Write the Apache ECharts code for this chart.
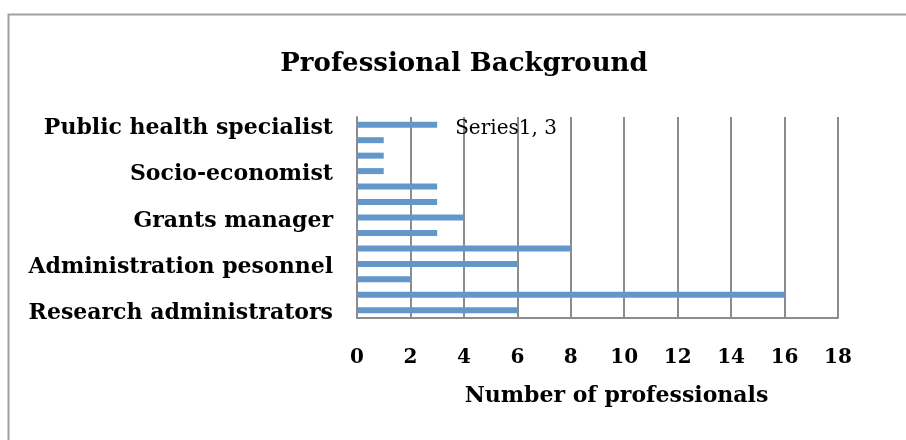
<!DOCTYPE html>
<html><head><meta charset="utf-8">
<script src="https://cdn.jsdelivr.net/npm/echarts@6/dist/echarts.min.js"></script>
<style>html,body{margin:0;padding:0;background:#fff}#c{width:906px;height:440px}</style>
</head><body><div id="c"></div>
<script>
// categories, bottom to top (only every third one is labelled in the source)
const categories = ['Research administrators','','','Administration pesonnel','','','Grants manager','','','Socio-economist','','','Public health specialist'];
const values = [6,16,2,6,8,3,4,3,3,1,1,1,3];
const xTicks = [0,2,4,6,8,10,12,14,16,18];
const seriesName = 'Series1';
const titleText = 'Professional Background';
const xAxisTitle = 'Number of professionals';

const FONT = 'DejaVu Serif';
const chart = echarts.init(document.getElementById('c'), null, {renderer:'canvas'});
const lastIdx = values.length - 1;
chart.setOption({
  animation:false,
  backgroundColor:'#fff',
  graphic:[{type:'rect',shape:{x:8.5,y:14.5,width:1000,height:1000},style:{fill:'none',stroke:'#a0a0a0',lineWidth:2},silent:true}],
  title:{text:titleText,left:459,textAlign:'center',top:46,textStyle:{fontFamily:FONT,fontWeight:'bold',fontSize:26,color:'#000'}},
  grid:{left:357,right:68,top:117,bottom:122,containLabel:false},
  xAxis:{type:'value',min:xTicks[0],max:xTicks[xTicks.length-1],interval:2,
    name:xAxisTitle,nameLocation:'middle',nameGap:67,
    nameTextStyle:{fontFamily:FONT,fontWeight:'bold',fontSize:22,color:'#000',padding:[0,0,0,38]},
    axisLine:{show:true,lineStyle:{color:'#8c8c8c',width:2}},
    axisTick:{show:false},
    axisLabel:{margin:30,fontFamily:FONT,fontWeight:'bold',fontSize:20,color:'#000'},
    splitLine:{show:true,lineStyle:{color:'#8c8c8c',width:2}}},
  yAxis:{type:'category',data:categories,
    axisLine:{show:true,lineStyle:{color:'#8c8c8c',width:2}},
    axisTick:{show:false},
    axisLabel:{interval:2,margin:24,formatter:v=> v ? '{a|'+v+'}' : '',
      rich:{a:{padding:[7,0,0,0],fontFamily:FONT,fontWeight:'bold',fontSize:22,color:'#000'}},
      fontFamily:FONT,fontWeight:'bold',fontSize:22,color:'#000'},
    splitLine:{show:false}},
  series:[{name:seriesName,type:'bar',barWidth:6,
    itemStyle:{color:'#6297cc'},
    data:values.map((v,i)=> i===lastIdx ? {value:v,label:{show:true,position:'right',distance:18,offset:[0,4],
      formatter:seriesName+', '+v,fontFamily:FONT,fontSize:20,color:'#000'}} : v)}]
});
</script></body></html>
